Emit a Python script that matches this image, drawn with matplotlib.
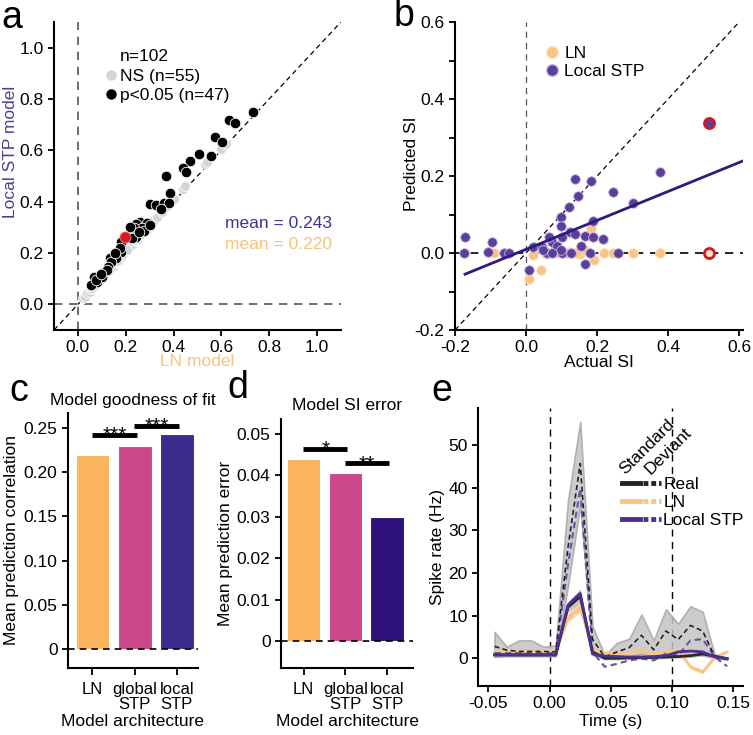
import numpy as np
import matplotlib.pyplot as plt
from matplotlib.lines import Line2D
from matplotlib.legend_handler import HandlerTuple

plt.rcParams['font.family'] = ['Liberation Sans', 'DejaVu Sans']
plt.rcParams['font.size'] = 12
plt.rcParams['axes.linewidth'] = 1.5
plt.rcParams['xtick.major.width'] = 1.3
plt.rcParams['ytick.major.width'] = 1.3
plt.rcParams['xtick.minor.width'] = 1.3
plt.rcParams['ytick.minor.width'] = 1.3
plt.rcParams['xtick.major.size'] = 4
plt.rcParams['ytick.major.size'] = 4

LN_C = '#fbb45c'
LN_LIGHT = '#f9c587'
GLOBAL_C = '#cc468a'
LOCAL_C = '#3d2c8d'
LOCAL_DARK = '#2e1179'
PURPLE = '#5b3f9c'

# ---- panel a : prediction correlation per neuron
ns_ln = [0.02, 0.03, 0.04, 0.05, 0.055, 0.06, 0.07, 0.075, 0.08, 0.085, 0.09, 0.10, 0.11, 0.115,
         0.12, 0.13, 0.135, 0.14, 0.15, 0.155, 0.16, 0.17, 0.175, 0.18, 0.19, 0.20, 0.21, 0.215,
         0.22, 0.23, 0.24, 0.245, 0.25, 0.26, 0.27, 0.28, 0.29, 0.30, 0.31, 0.32, 0.33, 0.35, 0.37,
         0.40, 0.44, 0.45, 0.53, 0.54, 0.60, 0.62, 0.125, 0.165, 0.205, 0.265, 0.095]
ns_stp = [0.025, 0.03, 0.045, 0.05, 0.06, 0.065, 0.07, 0.08, 0.085, 0.09, 0.095, 0.105, 0.11, 0.12,
          0.125, 0.13, 0.14, 0.145, 0.15, 0.16, 0.165, 0.17, 0.18, 0.185, 0.195, 0.21, 0.215, 0.22,
          0.225, 0.235, 0.245, 0.25, 0.255, 0.265, 0.275, 0.285, 0.29, 0.305, 0.315, 0.33, 0.34, 0.36,
          0.38, 0.41, 0.45, 0.46, 0.545, 0.555, 0.605, 0.625, 0.13, 0.17, 0.21, 0.275, 0.1]
sig_ln = [0.734, 0.631, 0.658, 0.572, 0.601, 0.508, 0.556, 0.467, 0.438, 0.452, 0.369, 0.387,
          0.303, 0.328, 0.359, 0.382, 0.348, 0.261, 0.243, 0.289, 0.268, 0.234, 0.275, 0.245,
          0.182, 0.227, 0.181, 0.160, 0.136, 0.140, 0.125, 0.108, 0.090, 0.067, 0.064, 0.081,
          0.056, 0.102, 0.220, 0.178, 0.122, 0.255, 0.157, 0.074, 0.095, 0.303, 0.199]
sig_stp = [0.748, 0.718, 0.705, 0.653, 0.634, 0.584, 0.579, 0.557, 0.530, 0.514, 0.501, 0.432,
           0.391, 0.387, 0.396, 0.396, 0.370, 0.319, 0.312, 0.318, 0.299, 0.296, 0.287, 0.264,
           0.242, 0.260, 0.203, 0.182, 0.182, 0.166, 0.147, 0.127, 0.110, 0.105, 0.079, 0.088,
           0.075, 0.108, 0.302, 0.218, 0.134, 0.283, 0.199, 0.095, 0.118, 0.309, 0.261]
example_a = (0.199, 0.261)
mean_texts = ['mean = 0.243', 'mean = 0.220']

# ---- panel b : predicted vs actual SI
actual_stp = [-0.172, -0.174, -0.095, -0.107, -0.061, -0.047, 0.009, 0.020, 0.045, 0.074, 0.065,
              0.098, 0.098, 0.102, 0.123, 0.122, 0.139, 0.147, 0.139, 0.154, 0.166, 0.165, 0.182,
              0.188, 0.188, 0.218, 0.246, 0.300, 0.376, 0.100, 0.127, 0.260, 0.060, 0.086, 0.097,
              0.179, 0.072, 0.048]
pred_stp = [0.042, 0.0, 0.028, 0.003, 0.0, 0.0, -0.045, 0.016, 0.016, 0.029, 0.041, 0.093, 0.069,
            0.041, 0.055, 0.119, 0.191, 0.148, 0.050, 0.017, 0.043, -0.029, 0.188, 0.084, 0.042,
            0.036, 0.159, 0.130, 0.210, 0.0, 0.0, 0.0, 0.0, 0.017, 0.007, 0.0, 0.0, 0.009]
actual_ln = [-0.172, -0.107, -0.091, -0.060, 0.007, 0.041, 0.020, 0.056, 0.100, 0.125, 0.153,
             0.183, 0.190, 0.165, 0.219, 0.244, 0.300, 0.377, 0.085, 0.140, 0.072, 0.113]
pred_ln = [0.0, 0.003, 0.0, 0.0, -0.068, -0.043, -0.006, -0.003, 0.0, 0.003, -0.002, 0.065,
           -0.017, 0.009, 0.0, 0.0, 0.0, 0.0, 0.0, 0.0, 0.003, 0.0]
example_b_actual = 0.514
example_b_stp = 0.338
example_b_ln = 0.0
fit_slope = 0.376
fit_intercept = 0.0096
fit_range = [-0.172, 0.609]

# ---- panels c, d : model comparison
models = ['LN', 'global\nSTP', 'local\nSTP']
mean_corr = [0.220, 0.230, 0.243]
mean_si_err = [0.0438, 0.0406, 0.0300]
sig_c = [(0, 1, 0.2424, '***'), (1, 2, 0.2527, '***')]
sig_d = [(0, 1, 0.0463, '*'), (1, 2, 0.0429, '**')]

# ---- panel e : PSTH
t_bins = [-0.045, -0.035, -0.025, -0.015, -0.005, 0.005, 0.015, 0.025, 0.035, 0.045,
          0.055, 0.065, 0.075, 0.085, 0.095, 0.105, 0.115, 0.125, 0.135, 0.145]
real_std = [0.8, 0.8, 0.8, 0.8, 0.8, 0.8, 12.0, 14.5, 1.5, 0.0, 0.0, 0.1, 0.2, 0.2, 0.3, 0.4, 0.6, 1.0, 0.5, -0.1]
real_std_sem = [0.5, 0.4, 0.4, 0.4, 0.4, 0.4, 1.2, 1.8, 0.8, 0.4, 0.4, 0.4, 0.4, 0.4, 0.4, 0.4, 0.4, 0.5, 0.4, 0.4]
real_dev = [2.8, 1.9, 1.6, 1.6, 1.6, 1.5, 26.0, 45.7, 4.5, 0.3, 1.5, 2.5, 5.4, 2.0, 6.4, 4.4, 7.7, 6.4, 0.3, -0.1]
real_dev_hi = [6.2, 2.7, 4.2, 4.2, 2.7, 3.0, 37.0, 55.5, 7.5, 0.7, 3.6, 4.6, 10.3, 4.2, 11.5, 8.1, 12.2, 10.9, 0.7, 0.2]
real_dev_lo = [0.3, 0.5, 0.5, 0.5, 0.5, 0.5, 17.0, 36.0, 1.5, 0.0, 0.3, 0.5, 1.0, 0.3, 1.0, 0.7, 1.0, 0.7, 0.0, -0.3]
ln_std = [1.5, 1.5, 1.5, 1.5, 1.5, 1.5, 9.5, 12.0, 1.9, 1.2, 0.7, 1.1, 1.9, 1.0, 1.5, 1.9, -2.0, -3.2, 0.2, 1.5]
ln_std_sem = [0.3, 0.3, 0.3, 0.3, 0.3, 0.3, 1.0, 1.2, 0.4, 0.3, 0.3, 0.3, 0.3, 0.3, 0.3, 0.3, 0.5, 0.5, 0.3, 0.3]
ln_dev = [1.9, 1.9, 1.9, 1.9, 1.9, 1.9, 9.0, 11.5, 2.0, 1.5, 1.5, 1.5, 1.5, 1.5, 1.5, 1.5, 1.5, 1.2, 0.3, 1.3]
local_std = [0.8, 0.8, 0.8, 0.8, 0.8, 0.8, 12.5, 15.2, 1.0, 0.5, 0.4, 0.3, 0.3, 0.4, 0.6, 1.5, 1.7, 1.5, 0.3, -0.1]
local_std_sem = [0.3, 0.3, 0.3, 0.3, 0.3, 0.3, 0.8, 0.9, 0.4, 0.3, 0.3, 0.3, 0.3, 0.3, 0.3, 0.3, 0.3, 0.3, 0.3, 0.3]
local_dev = [1.2, 1.2, 1.2, 1.2, 1.2, 1.2, 22.0, 39.8, 1.5, -2.0, -1.3, -0.5, -0.1, -0.5, 1.1, 0.7, 4.2, 4.5, 0.3, -1.9]


def clean(ax):
    ax.spines['top'].set_visible(False)
    ax.spines['right'].set_visible(False)
    ax.tick_params(direction='out', labelsize=12.5)


fig = plt.figure(figsize=(7.53, 7.35), dpi=100)

# ================= a
ax = fig.add_axes([0.0717, 0.551, 0.381, 0.419])
ax.axvline(0, color='#555555', ls=(0, (5, 4)), lw=1.2, zorder=1)
ax.axhline(0, color='#555555', ls=(0, (5, 4)), lw=1.2, zorder=1)
ax.plot([-0.1, 1.1], [-0.1, 1.1], color='k', ls=(0, (4, 3)), lw=0.9, zorder=1)
ax.scatter(ns_ln, ns_stp, s=50, c='#d4d4d4', edgecolors='white', linewidths=0.6, zorder=3)
ax.scatter(sig_ln, sig_stp, s=58, c='black', edgecolors='white', linewidths=0.6, zorder=4)
ax.scatter([example_a[0]], [example_a[1]], s=58, c='#d01c1c', edgecolors='#f05050', linewidths=0.8, zorder=5)
ax.set_xlim(-0.1, 1.1)
ax.set_ylim(-0.1, 1.1)
ax.set_xticks([0, 0.2, 0.4, 0.6, 0.8, 1.0])
ax.set_yticks([0, 0.2, 0.4, 0.6, 0.8, 1.0])
ax.set_xticklabels(['%.1f' % v for v in ax.get_xticks()])
ax.set_yticklabels(['%.1f' % v for v in ax.get_yticks()])
clean(ax)
ax.set_xlabel('LN model', color='#f6c27d', fontsize=12.5, labelpad=-1)
ax.set_ylabel('Local STP model', color='#4e3f92', fontsize=12.5)
ax.yaxis.set_label_coords(-0.125, 0.58)
ax.text(0.596, 0.347, mean_texts[0], transform=ax.transAxes, color='#3f3290', fontsize=12.5, va='center')
ax.text(0.596, 0.279, mean_texts[1], transform=ax.transAxes, color='#f6c27d', fontsize=12.5, va='center')
h = [Line2D([], [], ls='none'),
     Line2D([], [], marker='o', ls='none', mfc='#d4d4d4', mec='white', ms=8.5),
     Line2D([], [], marker='o', ls='none', mfc='black', mec='white', ms=8.5)]
ax.legend(h, ['n=102', 'NS (n=55)', 'p<0.05 (n=47)'], loc='upper left', bbox_to_anchor=(0.15, 0.935),
          frameon=False, handlelength=0.8, handletextpad=0.1, labelspacing=0.25, borderaxespad=0,
          fontsize=12.5)

# ================= b
ax = fig.add_axes([0.6043, 0.551, 0.382, 0.419])
ax.axvline(0, color='#555555', ls=(0, (5, 4)), lw=0.9, zorder=1)
ax.axhline(0, color='k', ls=(0, (5, 4)), lw=1.2, zorder=1)
ax.plot([-0.2, 0.61], [-0.2, 0.61], color='k', ls=(0, (4, 3)), lw=0.9, zorder=1)
ax.scatter(actual_ln, pred_ln, s=48, c=LN_LIGHT, edgecolors='#fde3c0', linewidths=0.6, zorder=3)
ax.scatter(actual_stp, pred_stp, s=48, c=PURPLE, edgecolors='#c8bce0', linewidths=0.6, zorder=4)
ax.scatter([example_b_actual], [example_b_ln], s=52, c='#fde0d0', edgecolors='#d8151a', linewidths=2, zorder=5)
ax.scatter([example_b_actual], [example_b_stp], s=52, c=PURPLE, edgecolors='#d8151a', linewidths=2, zorder=5)
xf = np.array(fit_range)
ax.plot(xf, fit_intercept + fit_slope * xf, color='#2f1b7c', lw=2, zorder=6)
ax.set_xlim(-0.2, 0.61)
ax.set_ylim(-0.2, 0.6)
ax.set_xticks([-0.2, 0, 0.2, 0.4, 0.6])
ax.set_yticks([-0.2, 0, 0.2, 0.4, 0.6])
ax.set_yticks([-0.1, 0.1, 0.3, 0.5], minor=True)
ax.tick_params(axis='y', which='minor', length=4)
ax.set_xticklabels(['-0.2', '0.0', '0.2', '0.4', '0.6'])
ax.set_yticklabels(['-0.2', '0.0', '0.2', '0.4', '0.6'])
clean(ax)
ax.set_xlabel('Actual SI', fontsize=12.5, labelpad=0)
ax.set_ylabel('Predicted SI', fontsize=12.5)
ax.yaxis.set_label_coords(-0.125, 0.54)
h = [Line2D([], [], marker='o', ls='none', mfc=LN_LIGHT, mec='#fde3c0', ms=8.5),
     Line2D([], [], marker='o', ls='none', mfc=PURPLE, mec='#c8bce0', ms=8.5)]
ax.legend(h, ['LN', 'Local STP'], loc='upper left', bbox_to_anchor=(0.29, 0.945),
          frameon=False, handlelength=0.8, handletextpad=0.3, labelspacing=0.15, borderaxespad=0,
          fontsize=12.5)


# ================= c, d
def bar_panel(rect, vals, cols, ylim, yticks, ylabels, ylab, title, sigs, xlim):
    ax = fig.add_axes(rect)
    x = np.arange(len(vals))
    ax.bar(x, vals, width=0.8, color=cols, edgecolor='white', linewidth=0.8, zorder=2)
    ax.axhline(0, color='k', ls=(0, (4, 3)), lw=1.2, zorder=3)
    for i, j, yb, star in sigs:
        ax.plot([i - 0.02, j + 0.05], [yb, yb], color='k', lw=3.5, solid_capstyle='butt', clip_on=False)
        ax.annotate(star, xy=((i + j) / 2 + 0.02, yb), xytext=(0, -4.5), textcoords='offset points',
                    ha='center', va='baseline', fontsize=15, annotation_clip=False)
    ax.set_xlim(*xlim)
    ax.set_ylim(*ylim)
    ax.set_yticks(yticks)
    ax.set_yticklabels(ylabels)
    ax.set_xticks(x)
    ax.set_xticklabels(models, linespacing=1.05)
    clean(ax)
    ax.tick_params(axis='x', length=5, pad=5, labelsize=12)
    ax.set_xlabel('Model architecture', fontsize=12.5, labelpad=1)
    ax.set_ylabel(ylab, fontsize=12.5, labelpad=3)
    ax.set_title(title, fontsize=12.5, pad=6)
    return ax


bar_panel([0.0903, 0.0912, 0.1726, 0.347], mean_corr, [LN_C, GLOBAL_C, LOCAL_C],
          (-0.0219, 0.2674), [0, 0.05, 0.10, 0.15, 0.20, 0.25],
          ['0', '0.05', '0.10', '0.15', '0.20', '0.25'],
          'Mean prediction correlation', 'Model goodness of fit', sig_c, (-0.58, 2.5))
bar_panel([0.3732, 0.0912, 0.1753, 0.339], mean_si_err, [LN_C, GLOBAL_C, LOCAL_DARK],
          (-0.0065, 0.0536), [0, 0.01, 0.02, 0.03, 0.04, 0.05],
          ['0', '0.01', '0.02', '0.03', '0.04', '0.05'],
          'Mean prediction error', 'Model SI error', sig_d, (-0.54, 2.62))

# ================= e
ax = fig.add_axes([0.6348, 0.0667, 0.352, 0.378])
t = np.array(t_bins)
E_PURPLE = '#4b2f91'
ax.axvline(0, color='k', ls=(0, (5, 4)), lw=1, zorder=1)
ax.axvline(0.1, color='k', ls=(0, (5, 4)), lw=1, zorder=1)
ax.fill_between(t, real_dev_lo, real_dev_hi, color='#c4c4c4', alpha=0.85, lw=1.2, edgecolor='#a8a8a8', zorder=2)
rs = np.array(real_std)
rse = np.array(real_std_sem)
ax.fill_between(t, rs - rse, rs + rse, color='#b8b8b8', alpha=0.8, lw=0, zorder=2)
ls_ = np.array(ln_std)
lse = np.array(ln_std_sem)
ax.fill_between(t, ls_ - lse, ls_ + lse, color='#fbd49e', alpha=0.8, lw=0, zorder=3)
lo = np.array(local_std)
loe = np.array(local_std_sem)
ax.fill_between(t, lo - loe, lo + loe, color='#a898cc', alpha=0.7, lw=0, zorder=3)
ax.plot(t, ln_std, color=LN_LIGHT, lw=2, zorder=4)
ax.plot(t, ln_dev, color=LN_LIGHT, lw=1.5, ls=(0, (3, 2)), zorder=4)
ax.plot(t, local_dev, color='#6a50aa', lw=1.5, ls=(0, (3, 2)), zorder=5)
ax.plot(t, real_dev, color='#222222', lw=1.2, ls=(0, (3, 2)), zorder=6)
ax.plot(t, real_std, color='#2a2a2a', lw=2, zorder=6)
ax.plot(t, local_std, color=E_PURPLE, lw=2, zorder=6)
ax.set_xlim(-0.0585, 0.158)
ax.set_ylim(-6.5, 58.7)
ax.set_xticks([-0.05, 0, 0.05, 0.1, 0.15])
ax.set_xticklabels(['-0.05', '0.00', '0.05', '0.10', '0.15'])
ax.set_yticks([0, 10, 20, 30, 40, 50])
clean(ax)
ax.set_xlabel('Time (s)', fontsize=12.5, labelpad=2)
ax.set_ylabel('Spike rate (Hz)', fontsize=12.5, labelpad=2)
dots = (0, (1.0, 0.6))
h = [(Line2D([], [], color='#222222', lw=3.5), Line2D([], [], color='#222222', lw=3.5, ls=dots)),
     (Line2D([], [], color=LN_LIGHT, lw=3.5), Line2D([], [], color=LN_LIGHT, lw=3.5, ls=dots)),
     (Line2D([], [], color=E_PURPLE, lw=3.5), Line2D([], [], color=E_PURPLE, lw=3.5, ls=dots))]
ax.legend(h, ['Real', 'LN', 'Local STP'], handler_map={tuple: HandlerTuple(ndivide=None, pad=0.2)},
          loc='upper left', bbox_to_anchor=(0.545, 0.752), frameon=False, handlelength=2.2,
          handletextpad=0.15, labelspacing=0.15, borderaxespad=0, borderpad=0, fontsize=12.5)
ax.text(0.565, 0.75, 'Standard', transform=ax.transAxes, rotation=45, rotation_mode='anchor',
        ha='left', va='bottom', fontsize=12.5)
ax.text(0.66, 0.75, 'Deviant', transform=ax.transAxes, rotation=45, rotation_mode='anchor',
        ha='left', va='bottom', fontsize=12.5)

# panel letters
for lbl, x, y in [('a', 0.002, 0.962), ('b', 0.523, 0.964), ('c', 0.012, 0.454),
                  ('d', 0.302, 0.458), ('e', 0.573, 0.454)]:
    fig.text(x, y, lbl, fontsize=27, va='baseline')

fig.savefig('out.png', dpi=100)
